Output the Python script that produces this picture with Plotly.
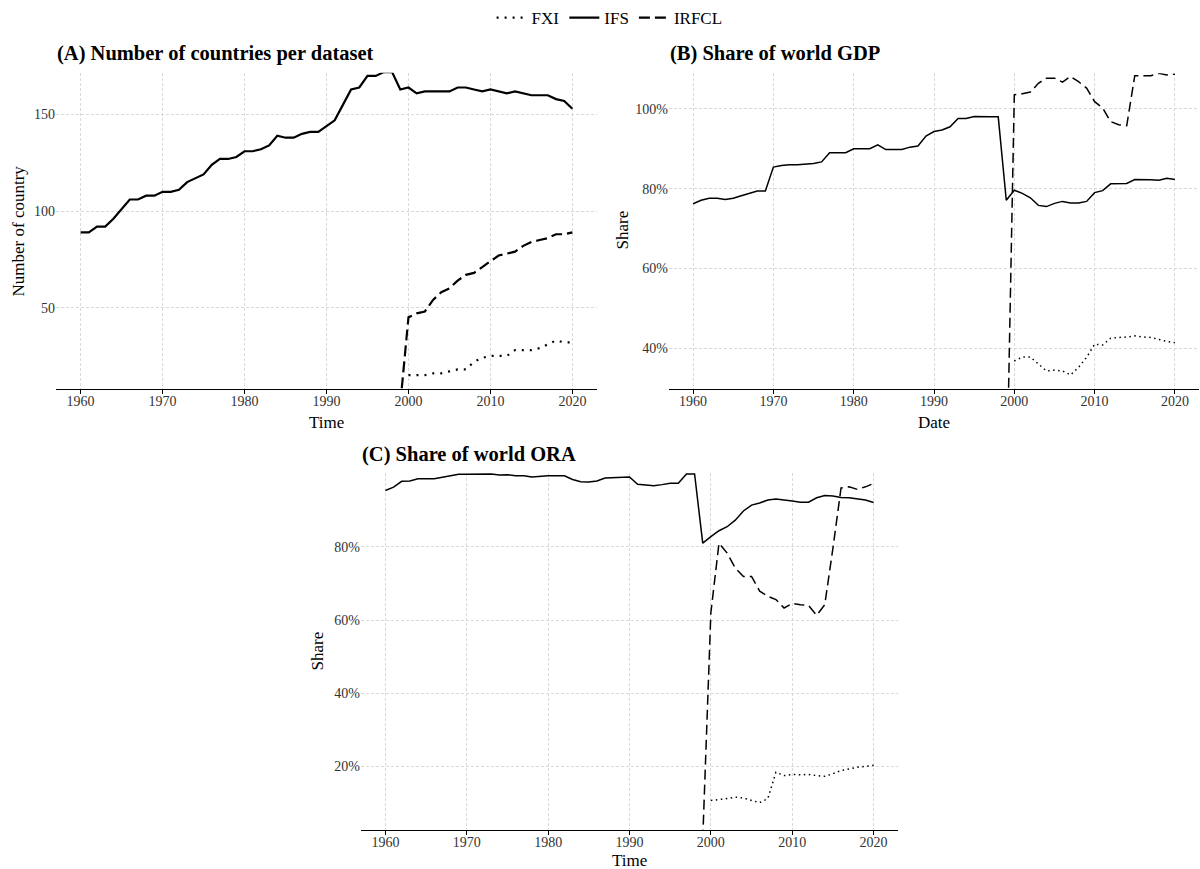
import plotly.graph_objects as go

W, H = 1200, 869

years_ifs = list(range(1960, 2021))
years_irfcl = list(range(1999, 2021))
years_fxi = list(range(2000, 2021))

# Panel A: number of countries
a_ifs = [89, 89, 92, 92, 96, 101, 106, 106, 108, 108,
         110, 110, 111, 115, 117, 119, 124, 127, 127, 128,
         131, 131, 132, 134, 139, 138, 138, 140, 141, 141,
         144, 147, 155, 163, 164, 170, 170, 172, 172, 163,
         164, 161, 162, 162, 162, 162, 164, 164, 163, 162,
         163, 162, 161, 162, 161, 160, 160, 160, 158, 157, 153]
a_irfcl = [0, 45, 47, 48, 54, 58, 60, 64, 67, 68, 71,
           74, 77, 78, 79, 82, 84, 85, 86, 88, 88, 89]
a_fxi = [15, 15, 15, 16, 16, 17, 18, 18, 22, 24,
         25, 25, 25, 28, 28, 28, 29, 31, 33, 32, 32]

# Panel B: share of world GDP (%)
b_ifs = [76.2, 77.1, 77.6, 77.6, 77.3, 77.6, 78.2, 78.8, 79.4, 79.4,
         85.4, 85.8, 86.0, 86.0, 86.2, 86.3, 86.7, 89.0, 89.0, 89.0,
         90.0, 90.0, 90.0, 91.0, 89.8, 89.8, 89.8, 90.4, 90.7, 93.2,
         94.3, 94.7, 95.5, 97.6, 97.6, 98.1, 98.0, 98.0, 98.0, 77.1,
         79.6, 78.8, 77.7, 75.8, 75.5, 76.3, 76.8, 76.4, 76.4, 76.8,
         79.0, 79.5, 81.2, 81.3, 81.3, 82.3, 82.3, 82.2, 82.1, 82.6, 82.3]
b_irfcl = [0, 103.5, 103.8, 104.2, 106.4, 107.7, 107.7, 106.7, 108.1, 106.8, 105.2,
           101.8, 100.2, 96.8, 96.0, 95.8, 108.3, 108.3, 108.3, 108.9, 108.5, 108.7]
b_fxi = [36.8, 37.8, 37.8, 36.0, 34.3, 34.5, 34.3, 33.3, 35.2, 37.7,
         41.0, 40.8, 42.5, 42.7, 42.8, 43.1, 42.8, 42.7, 42.2, 41.7, 41.4]

# Panel C: share of world ORA (%)
c_ifs = [95.4, 96.3, 97.9, 98.0, 98.6, 98.6, 98.6, 99.0, 99.4, 99.8,
         99.8, 99.8, 99.9, 99.9, 99.6, 99.7, 99.4, 99.4, 99.1, 99.3,
         99.4, 99.4, 99.4, 98.4, 97.8, 97.7, 98.0, 98.8, 98.9, 99.0,
         99.1, 97.1, 97.0, 96.7, 97.0, 97.4, 97.4, 99.9, 99.9, 81.0,
         82.8, 84.4, 85.5, 87.3, 89.8, 91.4, 92.0, 92.8, 93.1, 92.9,
         92.5, 92.2, 92.2, 93.4, 94.0, 93.9, 93.5, 93.4, 93.2, 92.8, 92.1]
c_irfcl = [0, 62.0, 81.0, 78.3, 74.2, 71.9, 71.9, 67.9, 66.5, 65.6, 63.3,
           64.5, 64.2, 64.0, 61.3, 64.2, 79.6, 96.1, 96.4, 95.7, 96.4, 97.3]
c_fxi = [10.7, 10.9, 11.2, 11.6, 11.4, 10.7, 10.1, 11.2, 18.4, 17.5,
         17.8, 17.7, 17.8, 17.5, 17.3, 18.0, 18.9, 19.3, 19.8, 20.0, 20.3]

x_ticks = [1960, 1970, 1980, 1990, 2000, 2010, 2020]
a_yticks = [50, 100, 150]
b_yticks = [40, 60, 80, 100]
b_ylabels = ["40%", "60%", "80%", "100%"]
c_yticks = [20, 40, 60, 80]
c_ylabels = ["20%", "40%", "60%", "80%"]

names = ["FXI", "IFS", "IRFCL"]

FONT = "Liberation Serif, Times New Roman, serif"

fig = go.Figure()

def add_panel(xa, ya, fxi, ifs, irfcl, width, dash_dash, dash_dot, show):
    fig.add_trace(go.Scatter(x=years_fxi, y=fxi, mode="lines", name=names[0],
                             legendgroup=names[0], showlegend=show,
                             line=dict(color="black", width=width, dash=dash_dot),
                             xaxis=xa, yaxis=ya))
    fig.add_trace(go.Scatter(x=years_ifs, y=ifs, mode="lines", name=names[1],
                             legendgroup=names[1], showlegend=show,
                             line=dict(color="black", width=width),
                             xaxis=xa, yaxis=ya))
    fig.add_trace(go.Scatter(x=years_irfcl, y=irfcl, mode="lines", name=names[2],
                             legendgroup=names[2], showlegend=show,
                             line=dict(color="black", width=width, dash=dash_dash),
                             xaxis=xa, yaxis=ya))

add_panel("x", "y", a_fxi, a_ifs, a_irfcl, 2.2, "11px,5px", "2px,6px", True)
add_panel("x2", "y2", b_fxi, b_ifs, b_irfcl, 1.5, "10px,5px", "1.5px,3.5px", False)
add_panel("x3", "y3", c_fxi, c_ifs, c_irfcl, 1.5, "10px,5px", "1.5px,3.5px", False)

def px_x(p):
    return p / W

def px_y(p):
    return 1 - p / H

grid = dict(showgrid=True, gridcolor="#d9d9d9", gridwidth=0.8, griddash="3px,2px",
            zeroline=False)
xcommon = dict(range=[1957, 2023], tickvals=x_ticks, showline=True, linecolor="black",
               linewidth=1.3, ticks="outside", ticklen=4, tickcolor="black", tickwidth=1,
               ticklabelstandoff=-5,
               tickfont=dict(family=FONT, size=14, color="#333333"), **grid)
ycommon = dict(showline=False, ticks="", tickfont=dict(family=FONT, size=14, color="#333333"),
               **grid)

fig.update_layout(
    width=W, height=H,
    margin=dict(l=0, r=0, t=0, b=0),
    paper_bgcolor="white", plot_bgcolor="white",
    font=dict(family=FONT, color="black"),
    xaxis=dict(domain=[px_x(56), px_x(597)], anchor="y", **xcommon),
    yaxis=dict(domain=[px_y(388), px_y(71)], anchor="x", range=[7.8, 171.6],
               tickvals=a_yticks, **ycommon),
    xaxis2=dict(domain=[px_x(669), px_x(1199)], anchor="y2", **xcommon),
    yaxis2=dict(domain=[px_y(388), px_y(71.5)], anchor="x2", range=[29.75, 108.9],
                tickvals=b_yticks, ticktext=b_ylabels, **ycommon),
    xaxis3=dict(domain=[px_x(361), px_x(898)], anchor="y3", **xcommon),
    yaxis3=dict(domain=[px_y(830), px_y(472)], anchor="x3", range=[2.6, 100.2],
                tickvals=c_yticks, ticktext=c_ylabels, **ycommon),
    legend=dict(orientation="h", x=0.508, xanchor="center", y=px_y(16), yanchor="middle",
                font=dict(family=FONT, size=17, color="black"), itemwidth=30,
                bgcolor="rgba(0,0,0,0)"),
)

annots = [
    dict(text="<b>(A) Number of countries per dataset</b>", x=px_x(55), y=px_y(52),
         xanchor="left", size=20.5),
    dict(text="<b>(B) Share of world GDP</b>", x=px_x(668), y=px_y(52),
         xanchor="left", size=20.5),
    dict(text="<b>(C) Share of world ORA</b>", x=px_x(360), y=px_y(454),
         xanchor="left", size=20.5),
    dict(text="Time", x=px_x(326.5), y=px_y(421), xanchor="center", size=17),
    dict(text="Date", x=px_x(934), y=px_y(421), xanchor="center", size=17),
    dict(text="Time", x=px_x(629.5), y=px_y(860), xanchor="center", size=17),
    dict(text="Number of country", x=px_x(18), y=px_y(230), xanchor="center", size=17, angle=-90),
    dict(text="Share", x=px_x(622), y=px_y(229), xanchor="center", size=17, angle=-90),
    dict(text="Share", x=px_x(318), y=px_y(651), xanchor="center", size=17, angle=-90),
]
for a in annots:
    fig.add_annotation(text=a["text"], x=a["x"], y=a["y"], xref="paper", yref="paper",
                       xanchor=a["xanchor"], yanchor="middle", showarrow=False,
                       textangle=a.get("angle", 0),
                       font=dict(family=FONT, size=a["size"], color="black"))

fig.write_html("out.html", config={"displayModeBar": False},
               post_script="document.body.style.margin='0';document.body.style.overflow='hidden';")
